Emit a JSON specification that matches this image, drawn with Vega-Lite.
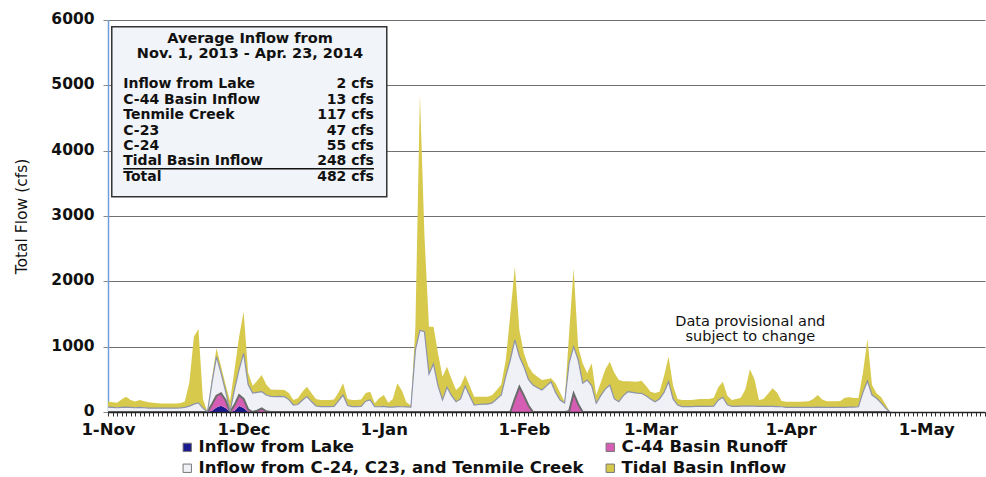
{
  "$schema": "https://vega.github.io/schema/vega-lite/v6.json",
  "width": 877,
  "height": 392,
  "autosize": {"type": "none"},
  "padding": {"left": 108, "top": 20, "right": 1, "bottom": 65},
  "background": "white",
  "config": {"view": {"stroke": null}, "font": "DejaVu Sans"},
  "layer": [
    {
      "data": {
        "values": [
          {"date":"2013-11-01","a_lake":0,"b_c44":0,"c_trib":75,"d_tidal":85},
          {"date":"2013-11-02","a_lake":0,"b_c44":0,"c_trib":70,"d_tidal":80},
          {"date":"2013-11-03","a_lake":0,"b_c44":0,"c_trib":65,"d_tidal":75},
          {"date":"2013-11-04","a_lake":0,"b_c44":0,"c_trib":70,"d_tidal":120},
          {"date":"2013-11-05","a_lake":0,"b_c44":0,"c_trib":75,"d_tidal":160},
          {"date":"2013-11-06","a_lake":0,"b_c44":0,"c_trib":70,"d_tidal":115},
          {"date":"2013-11-07","a_lake":0,"b_c44":0,"c_trib":65,"d_tidal":95},
          {"date":"2013-11-08","a_lake":0,"b_c44":0,"c_trib":70,"d_tidal":115},
          {"date":"2013-11-09","a_lake":0,"b_c44":0,"c_trib":65,"d_tidal":100},
          {"date":"2013-11-10","a_lake":0,"b_c44":0,"c_trib":60,"d_tidal":90},
          {"date":"2013-11-11","a_lake":0,"b_c44":0,"c_trib":60,"d_tidal":80},
          {"date":"2013-11-12","a_lake":0,"b_c44":0,"c_trib":60,"d_tidal":75},
          {"date":"2013-11-13","a_lake":0,"b_c44":0,"c_trib":60,"d_tidal":70},
          {"date":"2013-11-14","a_lake":0,"b_c44":0,"c_trib":60,"d_tidal":70},
          {"date":"2013-11-15","a_lake":0,"b_c44":0,"c_trib":60,"d_tidal":70},
          {"date":"2013-11-16","a_lake":0,"b_c44":0,"c_trib":60,"d_tidal":70},
          {"date":"2013-11-17","a_lake":0,"b_c44":0,"c_trib":62,"d_tidal":73},
          {"date":"2013-11-18","a_lake":0,"b_c44":0,"c_trib":70,"d_tidal":90},
          {"date":"2013-11-19","a_lake":0,"b_c44":0,"c_trib":90,"d_tidal":360},
          {"date":"2013-11-20","a_lake":0,"b_c44":0,"c_trib":120,"d_tidal":1030},
          {"date":"2013-11-21","a_lake":0,"b_c44":0,"c_trib":140,"d_tidal":1130},
          {"date":"2013-11-22","a_lake":0,"b_c44":0,"c_trib":60,"d_tidal":140},
          {"date":"2013-11-23","a_lake":0,"b_c44":0,"c_trib":0,"d_tidal":0},
          {"date":"2013-11-24","a_lake":20,"b_c44":100,"c_trib":330,"d_tidal":70},
          {"date":"2013-11-25","a_lake":70,"b_c44":180,"c_trib":597,"d_tidal":128},
          {"date":"2013-11-26","a_lake":95,"b_c44":190,"c_trib":315,"d_tidal":100},
          {"date":"2013-11-27","a_lake":60,"b_c44":120,"c_trib":140,"d_tidal":100},
          {"date":"2013-11-28","a_lake":0,"b_c44":0,"c_trib":10,"d_tidal":160},
          {"date":"2013-11-29","a_lake":20,"b_c44":90,"c_trib":240,"d_tidal":300},
          {"date":"2013-11-30","a_lake":90,"b_c44":170,"c_trib":390,"d_tidal":500},
          {"date":"2013-12-01","a_lake":60,"b_c44":140,"c_trib":698,"d_tidal":638},
          {"date":"2013-12-02","a_lake":0,"b_c44":40,"c_trib":380,"d_tidal":180},
          {"date":"2013-12-03","a_lake":0,"b_c44":0,"c_trib":290,"d_tidal":110},
          {"date":"2013-12-04","a_lake":0,"b_c44":20,"c_trib":280,"d_tidal":180},
          {"date":"2013-12-05","a_lake":0,"b_c44":56,"c_trib":255,"d_tidal":255},
          {"date":"2013-12-06","a_lake":0,"b_c44":10,"c_trib":250,"d_tidal":160},
          {"date":"2013-12-07","a_lake":0,"b_c44":0,"c_trib":240,"d_tidal":105},
          {"date":"2013-12-08","a_lake":0,"b_c44":0,"c_trib":235,"d_tidal":105},
          {"date":"2013-12-09","a_lake":0,"b_c44":0,"c_trib":240,"d_tidal":100},
          {"date":"2013-12-10","a_lake":0,"b_c44":0,"c_trib":235,"d_tidal":100},
          {"date":"2013-12-11","a_lake":0,"b_c44":0,"c_trib":190,"d_tidal":100},
          {"date":"2013-12-12","a_lake":0,"b_c44":0,"c_trib":107,"d_tidal":77},
          {"date":"2013-12-13","a_lake":0,"b_c44":0,"c_trib":115,"d_tidal":95},
          {"date":"2013-12-14","a_lake":0,"b_c44":0,"c_trib":180,"d_tidal":130},
          {"date":"2013-12-15","a_lake":0,"b_c44":0,"c_trib":235,"d_tidal":153},
          {"date":"2013-12-16","a_lake":0,"b_c44":0,"c_trib":160,"d_tidal":130},
          {"date":"2013-12-17","a_lake":0,"b_c44":0,"c_trib":92,"d_tidal":108},
          {"date":"2013-12-18","a_lake":0,"b_c44":0,"c_trib":82,"d_tidal":102},
          {"date":"2013-12-19","a_lake":0,"b_c44":0,"c_trib":82,"d_tidal":102},
          {"date":"2013-12-20","a_lake":0,"b_c44":0,"c_trib":82,"d_tidal":102},
          {"date":"2013-12-21","a_lake":0,"b_c44":0,"c_trib":85,"d_tidal":105},
          {"date":"2013-12-22","a_lake":0,"b_c44":0,"c_trib":170,"d_tidal":130},
          {"date":"2013-12-23","a_lake":0,"b_c44":0,"c_trib":260,"d_tidal":180},
          {"date":"2013-12-24","a_lake":0,"b_c44":0,"c_trib":100,"d_tidal":100},
          {"date":"2013-12-25","a_lake":0,"b_c44":0,"c_trib":82,"d_tidal":102},
          {"date":"2013-12-26","a_lake":0,"b_c44":0,"c_trib":82,"d_tidal":102},
          {"date":"2013-12-27","a_lake":0,"b_c44":0,"c_trib":85,"d_tidal":105},
          {"date":"2013-12-28","a_lake":0,"b_c44":0,"c_trib":165,"d_tidal":125},
          {"date":"2013-12-29","a_lake":0,"b_c44":0,"c_trib":184,"d_tidal":127},
          {"date":"2013-12-30","a_lake":0,"b_c44":0,"c_trib":80,"d_tidal":53},
          {"date":"2013-12-31","a_lake":0,"b_c44":0,"c_trib":80,"d_tidal":130},
          {"date":"2014-01-01","a_lake":0,"b_c44":0,"c_trib":85,"d_tidal":175},
          {"date":"2014-01-02","a_lake":0,"b_c44":0,"c_trib":75,"d_tidal":65},
          {"date":"2014-01-03","a_lake":0,"b_c44":0,"c_trib":75,"d_tidal":125},
          {"date":"2014-01-04","a_lake":0,"b_c44":0,"c_trib":82,"d_tidal":358},
          {"date":"2014-01-05","a_lake":0,"b_c44":0,"c_trib":80,"d_tidal":250},
          {"date":"2014-01-06","a_lake":0,"b_c44":0,"c_trib":78,"d_tidal":72},
          {"date":"2014-01-07","a_lake":0,"b_c44":0,"c_trib":75,"d_tidal":25},
          {"date":"2014-01-08","a_lake":0,"b_c44":0,"c_trib":950,"d_tidal":350},
          {"date":"2014-01-09","a_lake":0,"b_c44":0,"c_trib":1250,"d_tidal":3605},
          {"date":"2014-01-10","a_lake":0,"b_c44":0,"c_trib":1230,"d_tidal":1470},
          {"date":"2014-01-11","a_lake":0,"b_c44":0,"c_trib":582,"d_tidal":724},
          {"date":"2014-01-12","a_lake":0,"b_c44":0,"c_trib":735,"d_tidal":571},
          {"date":"2014-01-13","a_lake":0,"b_c44":0,"c_trib":400,"d_tidal":500},
          {"date":"2014-01-14","a_lake":0,"b_c44":0,"c_trib":184,"d_tidal":357},
          {"date":"2014-01-15","a_lake":0,"b_c44":0,"c_trib":378,"d_tidal":316},
          {"date":"2014-01-16","a_lake":0,"b_c44":0,"c_trib":250,"d_tidal":250},
          {"date":"2014-01-17","a_lake":0,"b_c44":0,"c_trib":158,"d_tidal":179},
          {"date":"2014-01-18","a_lake":0,"b_c44":0,"c_trib":200,"d_tidal":200},
          {"date":"2014-01-19","a_lake":0,"b_c44":0,"c_trib":398,"d_tidal":168},
          {"date":"2014-01-20","a_lake":0,"b_c44":0,"c_trib":250,"d_tidal":150},
          {"date":"2014-01-21","a_lake":0,"b_c44":0,"c_trib":107,"d_tidal":128},
          {"date":"2014-01-22","a_lake":0,"b_c44":0,"c_trib":115,"d_tidal":120},
          {"date":"2014-01-23","a_lake":0,"b_c44":0,"c_trib":120,"d_tidal":115},
          {"date":"2014-01-24","a_lake":0,"b_c44":0,"c_trib":122,"d_tidal":113},
          {"date":"2014-01-25","a_lake":0,"b_c44":0,"c_trib":140,"d_tidal":120},
          {"date":"2014-01-26","a_lake":0,"b_c44":0,"c_trib":200,"d_tidal":137},
          {"date":"2014-01-27","a_lake":0,"b_c44":0,"c_trib":260,"d_tidal":160},
          {"date":"2014-01-28","a_lake":0,"b_c44":0,"c_trib":550,"d_tidal":250},
          {"date":"2014-01-29","a_lake":0,"b_c44":0,"c_trib":800,"d_tidal":700},
          {"date":"2014-01-30","a_lake":0,"b_c44":200,"c_trib":903,"d_tidal":1122},
          {"date":"2014-01-31","a_lake":0,"b_c44":388,"c_trib":462,"d_tidal":400},
          {"date":"2014-02-01","a_lake":0,"b_c44":250,"c_trib":444,"d_tidal":204},
          {"date":"2014-02-02","a_lake":0,"b_c44":100,"c_trib":400,"d_tidal":200},
          {"date":"2014-02-03","a_lake":0,"b_c44":0,"c_trib":413,"d_tidal":179},
          {"date":"2014-02-04","a_lake":0,"b_c44":0,"c_trib":370,"d_tidal":170},
          {"date":"2014-02-05","a_lake":0,"b_c44":0,"c_trib":337,"d_tidal":153},
          {"date":"2014-02-06","a_lake":0,"b_c44":0,"c_trib":400,"d_tidal":100},
          {"date":"2014-02-07","a_lake":0,"b_c44":0,"c_trib":464,"d_tidal":52},
          {"date":"2014-02-08","a_lake":0,"b_c44":0,"c_trib":300,"d_tidal":140},
          {"date":"2014-02-09","a_lake":0,"b_c44":0,"c_trib":184,"d_tidal":116},
          {"date":"2014-02-10","a_lake":0,"b_c44":0,"c_trib":138,"d_tidal":20},
          {"date":"2014-02-11","a_lake":0,"b_c44":10,"c_trib":740,"d_tidal":450},
          {"date":"2014-02-12","a_lake":0,"b_c44":286,"c_trib":714,"d_tidal":1200},
          {"date":"2014-02-13","a_lake":0,"b_c44":120,"c_trib":680,"d_tidal":200},
          {"date":"2014-02-14","a_lake":0,"b_c44":0,"c_trib":440,"d_tidal":305},
          {"date":"2014-02-15","a_lake":0,"b_c44":0,"c_trib":490,"d_tidal":102},
          {"date":"2014-02-16","a_lake":0,"b_c44":0,"c_trib":400,"d_tidal":345},
          {"date":"2014-02-17","a_lake":0,"b_c44":0,"c_trib":133,"d_tidal":127},
          {"date":"2014-02-18","a_lake":0,"b_c44":0,"c_trib":250,"d_tidal":200},
          {"date":"2014-02-19","a_lake":0,"b_c44":0,"c_trib":350,"d_tidal":300},
          {"date":"2014-02-20","a_lake":0,"b_c44":0,"c_trib":413,"d_tidal":357},
          {"date":"2014-02-21","a_lake":0,"b_c44":0,"c_trib":200,"d_tidal":400},
          {"date":"2014-02-22","a_lake":0,"b_c44":0,"c_trib":158,"d_tidal":332},
          {"date":"2014-02-23","a_lake":0,"b_c44":0,"c_trib":250,"d_tidal":220},
          {"date":"2014-02-24","a_lake":0,"b_c44":0,"c_trib":311,"d_tidal":159},
          {"date":"2014-02-25","a_lake":0,"b_c44":0,"c_trib":300,"d_tidal":165},
          {"date":"2014-02-26","a_lake":0,"b_c44":0,"c_trib":290,"d_tidal":174},
          {"date":"2014-02-27","a_lake":0,"b_c44":0,"c_trib":286,"d_tidal":194},
          {"date":"2014-02-28","a_lake":0,"b_c44":0,"c_trib":250,"d_tidal":150},
          {"date":"2014-03-01","a_lake":0,"b_c44":0,"c_trib":200,"d_tidal":111},
          {"date":"2014-03-02","a_lake":0,"b_c44":0,"c_trib":158,"d_tidal":132},
          {"date":"2014-03-03","a_lake":0,"b_c44":0,"c_trib":200,"d_tidal":111},
          {"date":"2014-03-04","a_lake":0,"b_c44":0,"c_trib":300,"d_tidal":250},
          {"date":"2014-03-05","a_lake":0,"b_c44":0,"c_trib":464,"d_tidal":383},
          {"date":"2014-03-06","a_lake":0,"b_c44":0,"c_trib":200,"d_tidal":200},
          {"date":"2014-03-07","a_lake":0,"b_c44":0,"c_trib":107,"d_tidal":93},
          {"date":"2014-03-08","a_lake":0,"b_c44":0,"c_trib":82,"d_tidal":102},
          {"date":"2014-03-09","a_lake":0,"b_c44":0,"c_trib":82,"d_tidal":102},
          {"date":"2014-03-10","a_lake":0,"b_c44":0,"c_trib":82,"d_tidal":102},
          {"date":"2014-03-11","a_lake":0,"b_c44":0,"c_trib":85,"d_tidal":105},
          {"date":"2014-03-12","a_lake":0,"b_c44":0,"c_trib":85,"d_tidal":115},
          {"date":"2014-03-13","a_lake":0,"b_c44":0,"c_trib":85,"d_tidal":115},
          {"date":"2014-03-14","a_lake":0,"b_c44":0,"c_trib":85,"d_tidal":115},
          {"date":"2014-03-15","a_lake":0,"b_c44":0,"c_trib":90,"d_tidal":130},
          {"date":"2014-03-16","a_lake":0,"b_c44":0,"c_trib":180,"d_tidal":200},
          {"date":"2014-03-17","a_lake":0,"b_c44":0,"c_trib":225,"d_tidal":239},
          {"date":"2014-03-18","a_lake":0,"b_c44":0,"c_trib":110,"d_tidal":140},
          {"date":"2014-03-19","a_lake":0,"b_c44":0,"c_trib":85,"d_tidal":99},
          {"date":"2014-03-20","a_lake":0,"b_c44":0,"c_trib":85,"d_tidal":114},
          {"date":"2014-03-21","a_lake":0,"b_c44":0,"c_trib":90,"d_tidal":130},
          {"date":"2014-03-22","a_lake":0,"b_c44":0,"c_trib":90,"d_tidal":260},
          {"date":"2014-03-23","a_lake":0,"b_c44":0,"c_trib":92,"d_tidal":562},
          {"date":"2014-03-24","a_lake":0,"b_c44":0,"c_trib":90,"d_tidal":410},
          {"date":"2014-03-25","a_lake":0,"b_c44":0,"c_trib":85,"d_tidal":99},
          {"date":"2014-03-26","a_lake":0,"b_c44":0,"c_trib":85,"d_tidal":115},
          {"date":"2014-03-27","a_lake":0,"b_c44":0,"c_trib":85,"d_tidal":195},
          {"date":"2014-03-28","a_lake":0,"b_c44":0,"c_trib":85,"d_tidal":278},
          {"date":"2014-03-29","a_lake":0,"b_c44":0,"c_trib":82,"d_tidal":218},
          {"date":"2014-03-30","a_lake":0,"b_c44":0,"c_trib":80,"d_tidal":90},
          {"date":"2014-03-31","a_lake":0,"b_c44":0,"c_trib":72,"d_tidal":86},
          {"date":"2014-04-01","a_lake":0,"b_c44":0,"c_trib":72,"d_tidal":86},
          {"date":"2014-04-02","a_lake":0,"b_c44":0,"c_trib":72,"d_tidal":86},
          {"date":"2014-04-03","a_lake":0,"b_c44":0,"c_trib":72,"d_tidal":86},
          {"date":"2014-04-04","a_lake":0,"b_c44":0,"c_trib":72,"d_tidal":88},
          {"date":"2014-04-05","a_lake":0,"b_c44":0,"c_trib":72,"d_tidal":93},
          {"date":"2014-04-06","a_lake":0,"b_c44":0,"c_trib":72,"d_tidal":128},
          {"date":"2014-04-07","a_lake":0,"b_c44":0,"c_trib":75,"d_tidal":185},
          {"date":"2014-04-08","a_lake":0,"b_c44":0,"c_trib":72,"d_tidal":118},
          {"date":"2014-04-09","a_lake":0,"b_c44":0,"c_trib":72,"d_tidal":91},
          {"date":"2014-04-10","a_lake":0,"b_c44":0,"c_trib":70,"d_tidal":93},
          {"date":"2014-04-11","a_lake":0,"b_c44":0,"c_trib":70,"d_tidal":93},
          {"date":"2014-04-12","a_lake":0,"b_c44":0,"c_trib":70,"d_tidal":100},
          {"date":"2014-04-13","a_lake":0,"b_c44":0,"c_trib":72,"d_tidal":148},
          {"date":"2014-04-14","a_lake":0,"b_c44":0,"c_trib":75,"d_tidal":150},
          {"date":"2014-04-15","a_lake":0,"b_c44":0,"c_trib":75,"d_tidal":139},
          {"date":"2014-04-16","a_lake":0,"b_c44":0,"c_trib":80,"d_tidal":134},
          {"date":"2014-04-17","a_lake":0,"b_c44":0,"c_trib":300,"d_tidal":300},
          {"date":"2014-04-18","a_lake":0,"b_c44":0,"c_trib":475,"d_tidal":638},
          {"date":"2014-04-19","a_lake":0,"b_c44":0,"c_trib":260,"d_tidal":153},
          {"date":"2014-04-20","a_lake":0,"b_c44":0,"c_trib":210,"d_tidal":76},
          {"date":"2014-04-21","a_lake":0,"b_c44":0,"c_trib":140,"d_tidal":90},
          {"date":"2014-04-22","a_lake":0,"b_c44":0,"c_trib":60,"d_tidal":60},
          {"date":"2014-04-23","a_lake":0,"b_c44":0,"c_trib":0,"d_tidal":0}
        ],
        "format": {"parse": {"date": "utc:'%Y-%m-%d'"}}
      },
      "transform": [
        {"fold": ["a_lake", "b_c44", "c_trib", "d_tidal"], "as": ["key", "cfs"]},
        {"stack": "cfs", "groupby": ["date"], "sort": [{"field": "key", "order": "ascending"}], "offset": "zero", "as": ["y0", "y1"]}
      ],
      "layer": [
        {
          "mark": {"type": "area", "interpolate": "linear"},
          "encoding": {
            "x": {
              "field": "date", "type": "temporal",
              "scale": {"type": "utc", "domain": [{"year": 2013, "month": 11, "date": 1, "utc": true}, {"year": 2014, "month": 5, "date": 14, "utc": true}]},
              "axis": {
                "title": null,
                "tickCount": {"interval": "day", "step": 1},
                "labelExpr": "utcdate(datum.value) == 1 ? utcFormat(datum.value, '%-d-%b') : ''",
                "labelOverlap": false, "labelFlush": false,
                "labelFont": "DejaVu Sans", "labelFontWeight": "bold", "labelFontSize": 16.5, "labelColor": "#111111",
                "labelPadding": 5, "tickSize": 4, "tickColor": "#333333", "tickWidth": 1,
                "domainColor": "#222222", "domainWidth": 1.5, "grid": false, "zindex": 1
              }
            },
            "y": {
              "field": "y1", "type": "quantitative",
              "scale": {"domain": [0, 6000], "nice": false, "zero": true},
              "axis": {
                "title": "Total  Flow (cfs)",
                "format": "d",
                "values": [0, 500, 1000, 1500, 2000, 2500, 3000, 3500, 4000, 4500, 5000, 5500, 6000],
                "labelFont": "DejaVu Sans", "labelFontWeight": "bold", "labelFontSize": 15.5, "labelColor": "#111111",
                "labelPadding": 9, "labelOffset": -1.5, "tickSize": 5, "tickColor": "#8a8a8a",
                "domainColor": "#6f9fd8", "domainWidth": 1.5,
                "gridColor": "#707070", "gridWidth": 1,
                "titleFont": "DejaVu Sans", "titleFontWeight": "normal", "titleFontSize": 15.5, "titleColor": "#111111",
                "titlePadding": 21
              }
            },
            "y2": {"field": "y0"},
            "color": {
              "field": "key", "type": "nominal",
              "scale": {"domain": ["a_lake", "b_c44", "c_trib", "d_tidal"], "range": ["#1b1b8f", "#d55db4", "#eff1f7", "#d6c94c"]},
              "legend": {
                "orient": "none", "legendX": 71, "legendY": 419,
                "direction": "horizontal", "columns": 2, "title": null,
                "symbolType": "square", "symbolSize": 70, "symbolStrokeColor": "#777777", "symbolStrokeWidth": 1,
                "labelFont": "DejaVu Sans", "labelFontWeight": "bold", "labelFontSize": 16.5, "labelColor": "#111111",
                "labelExpr": "datum.label == 'a_lake' ? 'Inflow from Lake' : datum.label == 'b_c44' ? 'C-44 Basin Runoff' : datum.label == 'c_trib' ? 'Inflow from  C-24, C23, and Tenmile Creek' : 'Tidal Basin Inflow'",
                "labelLimit": 500, "rowPadding": 4, "columnPadding": 12, "labelOffset": 3
              }
            }
          }
        },
        {
          "transform": [{"filter": "datum.key == 'b_c44'"}],
          "mark": {"type": "line", "stroke": "#6b6b6b", "strokeWidth": 2},
          "encoding": {
            "x": {"field": "date", "type": "temporal"},
            "y": {"field": "y1", "type": "quantitative"}
          }
        },
        {
          "transform": [{"filter": "datum.key == 'c_trib'"}],
          "mark": {"type": "line", "stroke": "#8d93aa", "strokeWidth": 1.2},
          "encoding": {
            "x": {"field": "date", "type": "temporal"},
            "y": {"field": "y1", "type": "quantitative"}
          }
        }
      ]
    },
    {
      "data": {"values": [{}]},
      "mark": {"type": "rect", "fill": "#f1f4f8", "stroke": "#333333", "strokeWidth": 1.5},
      "encoding": {
        "x": {"datum": {"year": 2013, "month": 11, "date": 1, "hours": 20, "utc": true}, "type": "temporal"},
        "x2": {"datum": {"year": 2014, "month": 1, "date": 1, "hours": 16, "utc": true}},
        "y": {"datum": 5897, "type": "quantitative"},
        "y2": {"datum": 3296}
      }
    },
    {
      "data": {"values": [{}]},
      "mark": {"type": "text", "align": "center", "baseline": "alphabetic", "font": "DejaVu Sans", "fontWeight": "bold", "fontSize": 14.5, "lineHeight": 15.6, "color": "#111111"},
      "encoding": {
        "x": {"datum": {"year": 2013, "month": 12, "date": 2, "hours": 10, "utc": true}, "type": "temporal"},
        "y": {"datum": 5653, "type": "quantitative"},
        "text": {"value": ["Average Inflow from", "Nov. 1, 2013 - Apr. 23, 2014"]}
      }
    },
    {
      "data": {"values": [{}]},
      "mark": {"type": "text", "align": "left", "baseline": "alphabetic", "font": "DejaVu Sans", "fontWeight": "bold", "fontSize": 14, "lineHeight": 15.4, "color": "#111111"},
      "encoding": {
        "x": {"datum": {"year": 2013, "month": 11, "date": 4, "hours": 9, "utc": true}, "type": "temporal"},
        "y": {"datum": 4954, "type": "quantitative"},
        "text": {"value": ["Inflow from Lake", "C-44 Basin Inflow", "Tenmile Creek", "C-23", "C-24", "Tidal Basin Inflow", "Total"]}
      }
    },
    {
      "data": {"values": [{}]},
      "mark": {"type": "text", "align": "right", "baseline": "alphabetic", "font": "DejaVu Sans", "fontWeight": "bold", "fontSize": 14, "lineHeight": 15.4, "color": "#111111"},
      "encoding": {
        "x": {"datum": {"year": 2013, "month": 12, "date": 29, "hours": 20, "utc": true}, "type": "temporal"},
        "y": {"datum": 4954, "type": "quantitative"},
        "text": {"value": ["2 cfs", "13 cfs", "117 cfs", "47 cfs", "55 cfs", "248 cfs", "482 cfs"]}
      }
    },
    {
      "data": {"values": [{}]},
      "mark": {"type": "rule", "stroke": "#111111", "strokeWidth": 1.5},
      "encoding": {
        "x": {"datum": {"year": 2013, "month": 11, "date": 4, "hours": 9, "utc": true}, "type": "temporal"},
        "x2": {"datum": {"year": 2013, "month": 12, "date": 29, "hours": 20, "utc": true}},
        "y": {"datum": 3725, "type": "quantitative"}
      }
    },
    {
      "data": {"values": [{}]},
      "mark": {"type": "text", "align": "center", "baseline": "alphabetic", "font": "DejaVu Sans", "fontWeight": "normal", "fontSize": 14.5, "lineHeight": 15, "color": "#111111"},
      "encoding": {
        "x": {"datum": {"year": 2014, "month": 3, "date": 23, "hours": 2, "utc": true}, "type": "temporal"},
        "y": {"datum": 1316, "type": "quantitative"},
        "text": {"value": ["Data provisional and", "subject to change"]}
      }
    }
  ]
}
